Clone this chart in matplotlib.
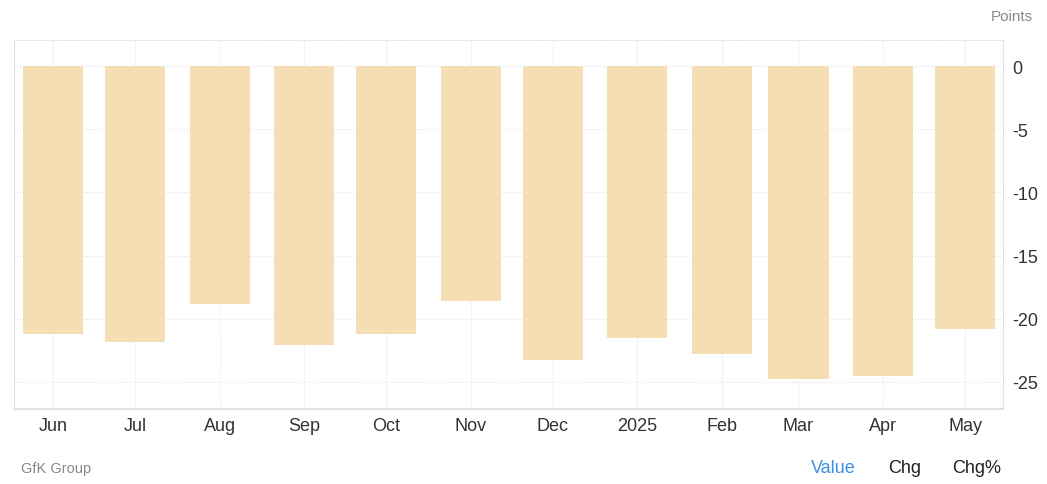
import matplotlib
matplotlib.use("Agg")
import matplotlib.pyplot as plt
from datetime import datetime, timedelta

plt.rcParams["font.family"] = ["Liberation Sans", "DejaVu Sans"]

months = ["2024-06-01", "2024-07-01", "2024-08-01", "2024-09-01", "2024-10-01", "2024-11-01",
          "2024-12-01", "2025-01-01", "2025-02-01", "2025-03-01", "2025-04-01", "2025-05-01"]
values = [-21.2, -21.8, -18.8, -22.1, -21.2, -18.6, -23.3, -21.5, -22.8, -24.8, -24.5, -20.8]
tick_labels = ["Jun", "Jul", "Aug", "Sep", "Oct", "Nov", "Dec", "2025", "Feb", "Mar", "Apr", "May"]
yticks = [0, -5, -10, -15, -20, -25]

dates = [datetime.strptime(m, "%Y-%m-%d") for m in months]

fig = plt.figure(figsize=(10.47, 4.85), dpi=100)
ax = fig.add_axes([14 / 1047, 75 / 485, 989 / 1047, 369 / 485])

ax.bar(dates, values, width=22, color="#f5deb3", zorder=2)

ax.set_xlim(dates[0] - timedelta(days=14.3), dates[-1] + timedelta(days=13.9))
ax.set_ylim(-27.14, 2.06)

ax.set_xticks(dates)
ax.set_xticklabels(tick_labels)
ax.set_yticks(yticks)
ax.set_yticklabels([str(v) for v in yticks])
ax.yaxis.tick_right()
ax.tick_params(axis="both", length=0, labelsize=13, colors="#333333")
ax.tick_params(axis="x", pad=6)
ax.tick_params(axis="y", pad=7)

ax.grid(True, color="#e3e3e3", linestyle=(0, (1, 1.5)), linewidth=0.8, zorder=0)
ax.spines["top"].set_color("#e3e3e3")
ax.spines["top"].set_linestyle((0, (1, 1.5)))
ax.spines["top"].set_linewidth(0.8)
for side in ["left", "right", "bottom"]:
    ax.spines[side].set_color("#e0e0e0")
ax.spines["bottom"].set_linewidth(1.5)

fig.text(1033 / 1047, 1 - 17 / 485, "Points", ha="right", va="center", fontsize=11, color="#888888")
fig.text(21 / 1047, 1 - 469 / 485, "GfK Group", ha="left", va="center", fontsize=10.5, color="#888888")
fig.text(833 / 1047, 1 - 469 / 485, "Value", ha="center", va="center", fontsize=13, color="#3b8fe6")
fig.text(905 / 1047, 1 - 469 / 485, "Chg", ha="center", va="center", fontsize=13, color="#222222")
fig.text(977 / 1047, 1 - 469 / 485, "Chg%", ha="center", va="center", fontsize=13, color="#222222")

fig.savefig("out.png", dpi=100)
